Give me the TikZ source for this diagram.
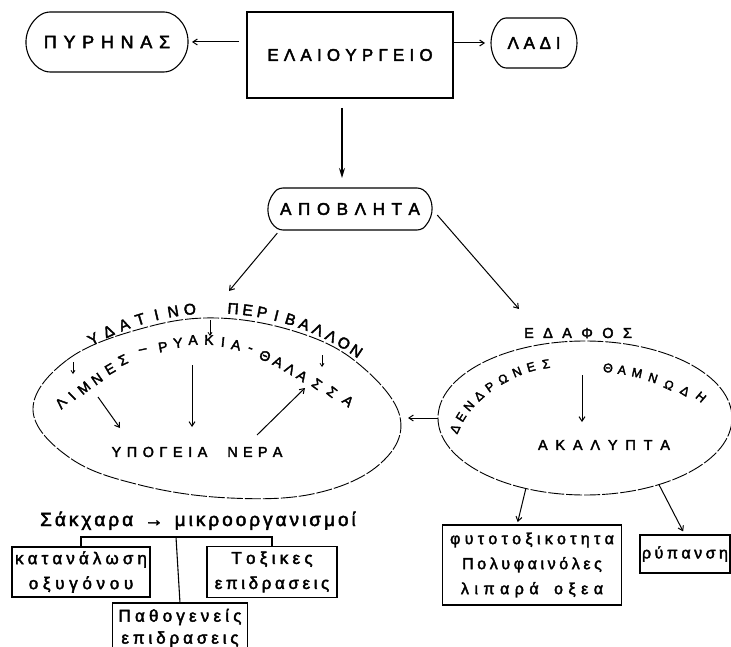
\documentclass[tikz,border=0pt]{standalone}
\usepackage{fontspec}
\setmainfont{Liberation Sans}[FakeBold=2.5]
\usetikzlibrary{shapes.misc,shapes.geometric,arrows.meta,calc}
\makeatletter
\newcommand\lsp[2]{\def\lsp@gap{#1}\lsp@loop#2\lsp@end}
\def\lsp@end{\lsp@end}
\def\lsp@loop#1{\ifx#1\lsp@end\unkern\else#1\kern\lsp@gap\relax\expandafter\lsp@loop\fi}
\makeatother
\begin{document}
\begin{tikzpicture}[x=1pt,y=1pt,
  every node/.style={inner sep=0pt, outer sep=0pt},
  ln/.style={line width=1.1pt},
  rrect/.style={draw, ln, rounded rectangle, rounded corners=3pt},
  box/.style={draw, ln, rectangle, align=center},
  sarr/.style={line width=1pt, -{Straight Barb[length=4.5pt,width=6pt]}},
  tarr/.style={line width=0.8pt, -{Straight Barb[length=3pt,width=4pt]}},
  bigarr/.style={line width=1.3pt, -{Stealth[length=10pt,width=6pt]}},
  eggline/.style={draw, line width=0.9pt, dash pattern=on 16pt off 2pt},
  ltr/.style={font=\fontsize{14}{16}\selectfont},
  sltr/.style={font=\fontsize{12.5}{14}\selectfont},
  arcl/.style={font=\fontsize{15.5}{17}\selectfont},
  capl/.style={font=\fontsize{14.5}{16}\selectfont},
  lowc/.style={font=\fontsize{17}{25}\selectfont},
]
\useasboundingbox (0,0) rectangle (731,-647);

% top row
\node[rrect, rounded rectangle arc length=140, minimum width=162pt, minimum height=60pt, font=\fontsize{18}{20}\selectfont] (pyr) at (107,-42) {\lsp{6.7pt}{ΠΥΡΗΝΑΣ}};
\node[draw, line width=1.2pt, minimum width=206pt, minimum height=86pt, font=\fontsize{17}{19}\selectfont] (ela) at (350,-55) {\lsp{5.2pt}{ΕΛΑΙΟΥΡΓΕΙΟ}\hspace{20pt}};
\node[rrect, rounded rectangle arc length=103, minimum width=86pt, minimum height=50pt, font=\fontsize{17}{19}\selectfont] (ladi) at (534,-43) {\lsp{4.7pt}{ΛΑΔΙ}};
\node[rrect, rounded rectangle arc length=118, minimum width=164pt, minimum height=42pt, font=\fontsize{17}{19}\selectfont] (apo) at (350,-209) {\lsp{6.6pt}{ΑΠΟΒΛΗΤΑ}};

\draw[sarr, shorten <=8pt, shorten >=4pt] (pyr.east -| ela.west) -- (pyr.east);
\draw[sarr, shorten >=6pt] (ladi.west -| ela.east) -- (ladi.west);
\draw[bigarr, shorten <=10pt, shorten >=10pt] ([xshift=-8pt]ela.south) -- ([xshift=-8pt]apo.north);

% water outline (egg shaped) and soil ellipse
\draw[eggline] plot[smooth cycle, tension=0.65] coordinates {(33,-410) (67,-360) (140,-329) (217,-318) (300,-333) (360,-365) (400,-417) (381,-463) (317,-493) (230,-498) (140,-485) (70,-458)};
\coordinate (weast) at (400,-417);
\node[draw, ellipse, line width=0.9pt, dash pattern=on 16pt off 2pt, minimum width=294pt, minimum height=154pt] (soil) at (585,-418) {};

\coordinate (wt) at (229,-291);
\coordinate (st) at (519,-309);
\draw[sarr, shorten <=4pt] (apo.south west) -- (wt);
\draw[sarr, shorten <=8pt] (apo.east) -- (st);
\draw[sarr, shorten >=8pt] (soil.west) -- (soil.west -| weast);

% water: title on arc
\foreach \ch [count=\i] in {Υ,Δ,Α,Τ,Ι,Ν,Ο}{
  \pgfmathsetmacro\ang{118.6-(\i-1)*3.82}
  \node[arcl, rotate=\ang-90] (ya\i) at ($(215,-562)+(\ang:254)$) {\ch};
}
\foreach \ch [count=\i] in {Π,Ε,Ρ,Ι,Β,Α,Λ,Λ,Ο,Ν}{
  \pgfmathsetmacro\ang{85.9-(\i-1)*3.3}
  \node[arcl, rotate=\ang-90] (yb\i) at ($(215,-562)+(\ang:254)$) {\ch};
}
% lakes - streams - sea
\foreach \px/\py/\rt/\ch [count=\i] in {61/403/48/Λ, 72/396/44/Ι, 84/388/40/Μ, 97/379/35/Ν, 110/369/30/Ε, 123/360/25/Σ, 143/351/12/–, 163/347/10/Ρ, 178/343/6/Υ, 193/340/2/Α, 209/340/-2/Κ, 223/342/-6/Ι, 236/345/-10/Α, 250/350/-18/-, 265/356/-22/Θ, 278/362/-26/Α, 290/369/-30/Λ, 302/376/-33/Α, 317/384/-36/Σ, 332/392/-38/Σ, 348/401/-40/Α}{
  \node[ltr, rotate=\rt] (lm\i) at (\px,-\py) {\ch};
}
\node[capl] (ypo) at (197,-452) {\lsp{5.5pt}{ΥΠΟΓΕΙΑ}\hspace{20pt}\lsp{5.2pt}{ΝΕΡΑ}};

\coordinate (s1a) at (210,-320); \coordinate (s1b) at (210,-336);
\coordinate (s2a) at (73,-362);  \coordinate (s2b) at (73,-374);
\coordinate (s3a) at (322,-355); \coordinate (s3b) at (322,-367);
\draw[tarr] (s1a) -- (s1b);
\draw[tarr] (s2a) -- (s2b);
\draw[tarr] (s3a) -- (s3b);

\coordinate (i1a) at (98,-397);  \coordinate (i1b) at (120,-428);
\coordinate (i2a) at (192,-365); \coordinate (i2b) at (192,-427);
\coordinate (i3a) at (257,-435); \coordinate (i3b) at (305,-388);
\draw[sarr] (i1a) -- (i1b);
\draw[sarr] (i2a) -- (i2b);
\draw[sarr] (i3a) -- (i3b);

% soil
\node[capl] (edafos) at (578,-333) {\lsp{9.4pt}{ΕΔΑΦΟΣ}};
\foreach \px/\py/\rt/\ch [count=\i] in {455/429/65/Δ, 461/417/58/Ε, 469/406/50/Ν, 479/396/42/Δ, 490/387/35/Ρ, 503/379/28/Ω, 517/372/22/Ν, 531/367/16/Ε, 546/364/10/Σ}{
  \node[sltr, rotate=\rt] (dd\i) at (\px,-\py) {\ch};
}
\foreach \px/\py/\rt/\ch [count=\i] in {608/368/-5/Θ, 622/370/-8/Α, 637/373/-12/Μ, 653/378/-18/Ν, 669/385/-25/Ω, 685/391/-32/Δ, 701/397/-40/Η}{
  \node[sltr, rotate=\rt] (th\i) at (\px,-\py) {\ch};
}
\node[capl] (akal) at (604,-445) {\lsp{7.8pt}{ΑΚΑΛΥΠΤΑ}};
\coordinate (sd) at (582,-375);
\draw[sarr, shorten >=18pt] (sd) -- (sd |- akal.north);

% bottom left
\node[font=\fontsize{19}{22}\selectfont, anchor=base] (mik) at (198,-526) {\lsp{3pt}{Σάκχαρα~→~μικροοργανισμοί}};
\node[box, lowc, minimum width=138pt, minimum height=50pt] (kat) at (81,-572) {\lsp{4.1pt}{κατανάλωση}\\\lsp{4.7pt}{οξυγόνου}};
\node[box, lowc, minimum width=130pt, minimum height=51pt] (tox) at (272,-572) {\lsp{4.3pt}{Τοξικες}\\\lsp{3.6pt}{επιδρασεις}};
\node[box, font=\fontsize{17}{22}\selectfont, minimum width=135pt, minimum height=50pt] (patho) at (180,-628) {\lsp{4.2pt}{Παθογενείς}\\\lsp{3.9pt}{επιδρασεις}};
\coordinate (bar) at (176,-537);
\draw[ln] (kat.north) |- (bar) -| (tox.north);
\draw[ln] (bar) -- (patho.north);

% bottom right
\node[box, font=\fontsize{16}{25}\selectfont, minimum width=179pt, minimum height=80pt] (phyto) at (532,-565) {\lsp{4.3pt}{φυτοτοξικοτητα}\\\lsp{3.6pt}{Πολυφαινόλες}\\\lsp{5.5pt}{λιπαρά~οξεα}};
\node[box, font=\fontsize{16}{18}\selectfont, minimum width=90pt, minimum height=38pt] (ryp) at (685,-554) {\lsp{3.5pt}{ρύπανση}};
\draw[sarr, shorten >=3pt] (soil.230) -- ([xshift=-15pt]phyto.north);
\draw[sarr, shorten >=4pt] (soil.318) -- (ryp.north);
\end{tikzpicture}
\end{document}
